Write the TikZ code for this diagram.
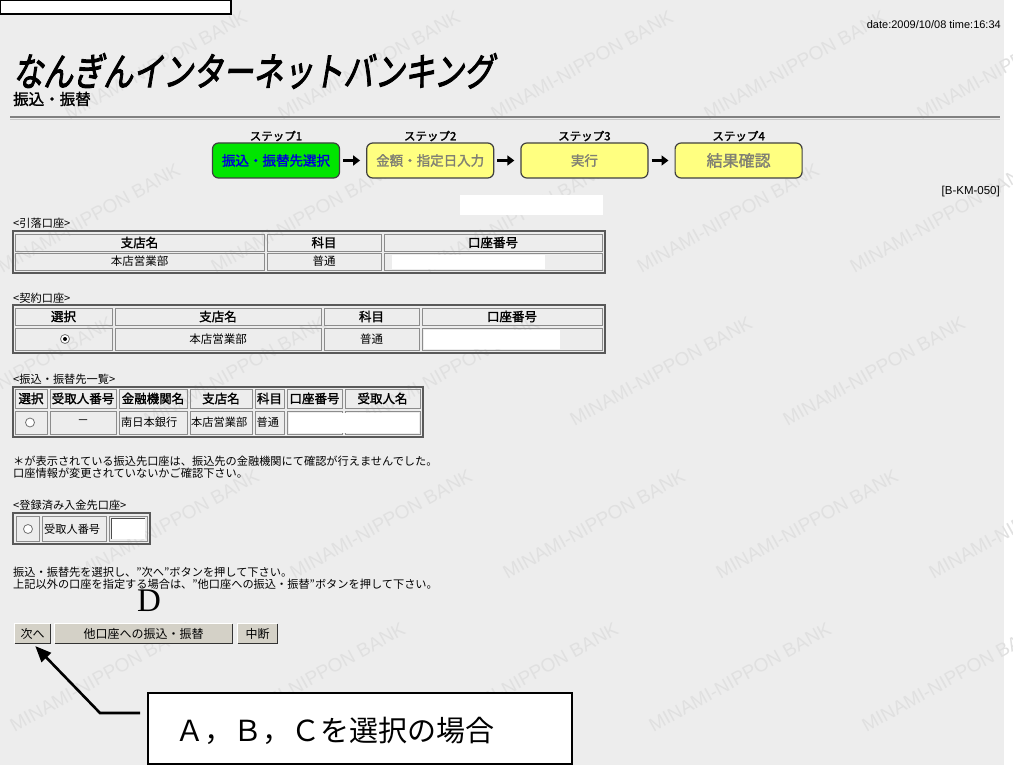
\documentclass[tikz,border=0pt]{standalone}
\usepackage{fontspec}
\setmainfont{Liberation Sans}
\newfontfamily\jp{Noto Sans CJK JP}
\newfontfamily\jpb[FakeBold=1.6]{Noto Sans CJK JP}
\newfontfamily\jpt[FakeSlant=0.22,FakeBold=2.6]{Noto Sans CJK JP}
\newfontfamily\dfont{Liberation Serif}
\usetikzlibrary{shapes,arrows,arrows.meta,positioning}
\definecolor{pagebg}{rgb}{.93,.93,.93}
\definecolor{stepgreen}{rgb}{0,.9,0}
\definecolor{stepyellow}{rgb}{1,1,.5}
\definecolor{stepblue}{rgb}{0,0,.85}
\definecolor{stepgray}{rgb}{.5,.5,.45}
\definecolor{btnface}{rgb}{.83,.82,.78}
\tikzstyle{stepbox} = [rectangle, draw=black!75, line width=1.2pt, rounded corners=6pt,
    minimum width=127pt, minimum height=35pt, inner sep=0pt, fill=stepyellow, text=stepgray,
    font=\jpb\fontsize{13.5}{14}\selectfont]
\tikzstyle{steplabel} = [font=\jpb\fontsize{11.5}{12}\selectfont, inner sep=1pt]
\tikzstyle{line} = [draw, line width=3pt, -{Triangle[length=7pt,width=10pt]}, shorten <=3pt, shorten >=6pt]
\tikzstyle{pointer} = [draw, line width=2.6pt, -{Triangle[length=16pt,width=13pt]}, shorten >=4pt]
\tikzstyle{txt} = [font=\jp\fontsize{11.2}{13}\selectfont, inner sep=0pt, anchor=west]
\tikzstyle{body} = [font=\jp\fontsize{11.5}{13}\selectfont, inner sep=0pt]
\tikzstyle{head} = [font=\jpb\fontsize{12.5}{13}\selectfont, inner sep=0pt]
\tikzstyle{cell} = [draw=black!45, line width=0.8pt]
\tikzstyle{frame} = [draw=black!65, line width=2pt]
\tikzstyle{button} = [fill=btnface, inner sep=0pt, font=\jp\fontsize{12}{12}\selectfont]
\tikzstyle{radio} = [circle, draw=black!55, fill=white, minimum size=9pt, inner sep=0pt, line width=0.8pt]
\tikzstyle{wmark} = [font=\fontsize{19}{19}\selectfont, text=black!12, rotate=29, inner sep=0pt]

\begin{document}
\begin{tikzpicture}[x=1pt, y=-1pt]
    \useasboundingbox (0,0) rectangle (1013,765);
    % page and watermark
    \fill [pagebg] (0,0) rectangle (1013,765);
    \fill [white] (1004,0) rectangle (1013,765);
    \foreach \r in {-1,...,5}
        \foreach \c in {-4,...,2} {
            \pgfmathsetmacro\wx{795-67*\r+213*\c}
            \pgfmathsetmacro\wy{65+153*\r}
            \pgfmathparse{and(and(\wx>-30,\wx<1040),and(\wy>-10,\wy<780)) ? 1 : 0}
            \ifdim\pgfmathresult pt>0.5pt
                \node [wmark] (wm\r\c) at (\wx,\wy) {MINAMI-NIPPON BANK};
            \fi
        }
    \draw [line width=2pt, fill=white] (0,0) rectangle (231,14);
    % header
    \node [anchor=west, inner sep=0pt, font=\jpt\fontsize{30}{30}\selectfont] (title) at (13,71)
        {\scalebox{1}[1.3]{なんぎんインターネットバンキング}};
    \node [anchor=west, inner sep=0pt, font=\jpb\fontsize{15.5}{16}\selectfont] (sub) at (13,99) {振込・振替};
    \node [anchor=east, inner sep=0pt, font=\fontsize{11}{11}\selectfont] (date) at (1001,25) {date:2009/10/08 time:16:34};
    \draw [black!50, line width=2pt] (10,117.5) -- (1000,117.5);
    \draw [black!22, line width=1pt] (10,119.5) -- (1000,119.5);
    % Place nodes
    \node [stepbox, fill=stepgreen, text=stepblue] (s1) at (276,160.5) {振込・振替先選択};
    \node [stepbox, right=26pt of s1] (s2) {金額・指定日入力};
    \node [stepbox, right=26pt of s2] (s3) {実行};
    \node [stepbox, right=26pt of s3, font=\jpb\fontsize{16}{16}\selectfont] (s4) {結果確認};
    \node [steplabel, above=0pt of s1] (l1) {ステップ1};
    \node [steplabel, above=0pt of s2] (l2) {ステップ2};
    \node [steplabel, above=0pt of s3] (l3) {ステップ3};
    \node [steplabel, above=0pt of s4] (l4) {ステップ4};
    % Draw edges
    \path [line] (s1) -- (s2);
    \path [line] (s2) -- (s3);
    \path [line] (s3) -- (s4);
    \node [anchor=east, inner sep=0pt, font=\fontsize{11.5}{12}\selectfont] (code) at (1000,192) {[B-KM-050]};
    \fill [white] (460,195) rectangle (603,215);
    % table 1
    \node [txt] (lab1) at (13,223) {<引落口座>};
    \draw [frame] (13,231) rectangle (605,273);
    \foreach \xa/\xb/\nm/\hd/\dt in {15/264/a/支店名/本店営業部, 267/381/b/科目/普通, 384/602/c/口座番号/{}} {
        \draw [cell] (\xa,234) rectangle (\xb,251);
        \draw [cell] (\xa,253) rectangle (\xb,270);
        \node [head] (ta\nm) at ({(\xa+\xb)/2},242.5) {\hd};
        \node [body] (ta\nm d) at ({(\xa+\xb)/2},261.5) {\dt};
    }
    \fill [white] (392,254.5) rectangle (545,268.5);
    % table 2
    \node [txt] (lab2) at (13,298) {<契約口座>};
    \draw [frame] (13,305) rectangle (605,353);
    \foreach \xa/\xb/\nm/\hd/\dt in {15/112/a/選択/{}, 115/321/b/支店名/本店営業部, 324/419/c/科目/普通, 422/602/d/口座番号/{}} {
        \draw [cell] (\xa,308) rectangle (\xb,325);
        \draw [cell] (\xa,328) rectangle (\xb,350);
        \node [head] (tb\nm) at ({(\xa+\xb)/2},316.5) {\hd};
        \node [body] (tb\nm d) at ({(\xa+\xb)/2},339) {\dt};
    }
    \fill [white] (424,329.5) rectangle (560,348.5);
    \node [radio] (rb1) at (65,339) {};
    \fill (rb1) circle (2pt);
    % table 3
    \node [txt] (lab3) at (13,379) {<振込・振替先一覧>};
    \draw [frame] (13,387) rectangle (423,437);
    \foreach \xa/\xb/\nm/\hd in {15/47/a/選択, 50/116/b/受取人番号, 119/187/c/金融機関名, 190/252/d/支店名, 255/284/e/科目, 287/342/f/口座番号, 345/420/g/受取人名} {
        \draw [cell] (\xa,389.5) rectangle (\xb,408);
        \draw [cell] (\xa,411) rectangle (\xb,434.5);
        \node [head] (tc\nm) at ({(\xa+\xb)/2},398.5) {\hd};
    }
    \fill [white] (289,412.5) rectangle (419,433);
    \node [radio] (rb2) at (30,422.5) {};
    \node [body] (tcbd) at (83,422.5) {－};
    \node [txt] (tccd) at (121,422.5) {南日本銀行};
    \node [txt] (tcdd) at (191,422.5) {本店営業部};
    \node [txt] (tced) at (256.5,422.5) {普通};
    % notes
    \node [txt] (note1) at (13,461) {＊が表示されている振込先口座は、振込先の金融機関にて確認が行えませんでした。};
    \node [txt] (note2) at (13,473) {口座情報が変更されていないかご確認下さい。};
    % registered account
    \node [txt] (lab4) at (13,505) {<登録済み入金先口座>};
    \draw [frame] (13,513) rectangle (150,544);
    \draw [cell] (16,516) rectangle (39,541);
    \draw [cell] (42,516) rectangle (106,541);
    \draw [cell] (109,516) rectangle (147,541);
    \node [radio] (rb3) at (28,529) {};
    \node [txt] (tdb) at (44,529) {受取人番号};
    \fill [white] (111,518) rectangle (145,539);
    \draw [black!70, line width=1.2pt] (111.5,539) -- (111.5,518.5) -- (145,518.5);
    % guidance
    \node [txt] (guide1) at (13,572) {振込・振替先を選択し、”次へ”ボタンを押して下さい。};
    \node [txt] (guide2) at (13,584) {上記以外の口座を指定する場合は、”他口座への振込・振替”ボタンを押して下さい。};
    \node [inner sep=0pt, font=\dfont\fontsize{33}{33}\selectfont] (dmark) at (149,601) {D};
    % buttons
    \node [button, minimum width=35pt, minimum height=19pt] (b1) at (32.5,633.5) {次へ};
    \node [button, minimum width=177pt, minimum height=19pt] (b2) at (143.5,633.5) {他口座への振込・振替};
    \node [button, minimum width=39pt, minimum height=19pt] (b3) at (257.5,633.5) {中断};
    \foreach \b in {b1,b2,b3} {
        \draw [white, line width=1pt] (\b.south west) |- (\b.north east);
        \draw [black!80, line width=1.2pt] (\b.south west) -| (\b.north east);
    }
    % callout
    \node [draw, line width=1.6pt, fill=white, minimum width=424pt, minimum height=71pt, inner sep=0pt] (callout) at (360,728.5) {};
    \node [inner sep=0pt, font=\jp\fontsize{29}{29}\selectfont] (calltext) at (335,731) {Ａ，Ｂ，Ｃを選択の場合};
    \coordinate (tail) at (140,713);
    \coordinate (bend) at (100,713);
    \path [pointer] (tail) -- (bend) -- (b1.south);
\end{tikzpicture}
\end{document}
